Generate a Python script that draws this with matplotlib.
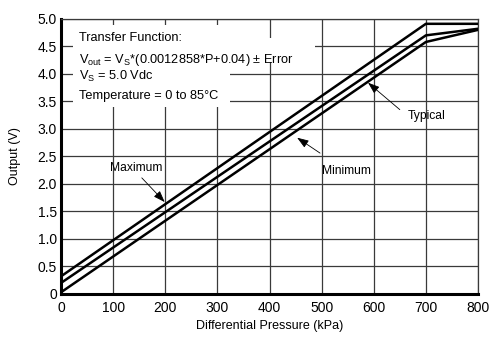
import matplotlib
matplotlib.use('Agg')
import matplotlib.pyplot as plt
from matplotlib.patches import Rectangle

# data (kPa -> V)
pressure = [0, 700, 800]
maximum = [0.32, 4.91, 4.91]
typical = [0.20, 4.70, 4.82]
minimum = [0.03, 4.58, 4.80]

x_ticks = [0, 100, 200, 300, 400, 500, 600, 700, 800]
y_ticks = [0, 0.5, 1.0, 1.5, 2.0, 2.5, 3.0, 3.5, 4.0, 4.5, 5.0]
y_labels = ['0', '0.5', '1.0', '1.5', '2.0', '2.5', '3.0', '3.5', '4.0', '4.5', '5.0']

# annotation label / arrow (tail, tip) positions in data units
notes = [
    ('Maximum', (144, 2.29), (155, 2.11), (199, 1.67)),
    ('Minimum', (547, 2.24), (497, 2.56), (453, 2.84)),
    ('Typical', (702, 3.24), (650, 3.35), (589, 3.84)),
]

plt.rcParams['font.family'] = ['Liberation Sans', 'DejaVu Sans']
plt.rcParams['mathtext.fontset'] = 'custom'
plt.rcParams['mathtext.rm'] = 'Liberation Sans'

fig = plt.figure(figsize=(5, 3.43), dpi=100)
ax = fig.add_axes([0.122, 0.143, 0.834, 0.802])

for v in [maximum, typical, minimum]:
    ax.plot(pressure, v, color='black', lw=1.8, zorder=3)

ax.set_xlim(0, 800)
ax.set_ylim(0, 5)
ax.set_xticks(x_ticks)
ax.set_xticklabels([str(t) for t in x_ticks], fontsize=10)
ax.set_yticks(y_ticks)
ax.set_yticklabels(y_labels, fontsize=10)
ax.tick_params(axis='x', length=0, pad=5)
ax.tick_params(axis='y', length=0, pad=3)
ax.grid(color='#3a3a3a', lw=0.9)
ax.set_axisbelow(True)

for s in ['left', 'bottom']:
    ax.spines[s].set_linewidth(2.2)
    ax.spines[s].set_color('black')
for s in ['top', 'right']:
    ax.spines[s].set_linewidth(0.9)
    ax.spines[s].set_color('#3a3a3a')

# white area behind the transfer function text
ax.add_patch(Rectangle((0.029, 0.68), 0.376, 0.298, transform=ax.transAxes,
                       facecolor='white', edgecolor='none', zorder=1))
ax.add_patch(Rectangle((0.029, 0.844), 0.58, 0.087, transform=ax.transAxes,
                       facecolor='white', edgecolor='none', zorder=1))

txt = [
    (0.918, 'Transfer Function:'),
    (0.841, r'V$_\mathregular{out}$ = V$_\mathregular{S}$*(0.0012858*P+0.04) ± Error'),
    (0.778, r'V$_\mathregular{S}$ = 5.0 Vdc'),
    (0.709, 'Temperature = 0 to 85°C'),
]
for y, t in txt:
    ax.text(0.043, y, t, transform=ax.transAxes, fontsize=9.2, va='baseline',
            ha='left', zorder=4)

for label, pos, tail, tip in notes:
    ax.text(pos[0], pos[1], label, fontsize=8.7, ha='center', va='center', zorder=4)
    ax.annotate('', xy=tip, xytext=tail,
                arrowprops=dict(arrowstyle='-|>,head_length=0.7,head_width=0.25',
                                color='black', lw=0.6, shrinkA=0, shrinkB=0),
                zorder=4)

ax.set_xlabel('Differential Pressure (kPa)', fontsize=9)
ax.set_ylabel('Output (V)', fontsize=9)
ax.xaxis.set_label_coords(0.5, -0.095)
ax.yaxis.set_label_coords(-0.096, 0.5)

fig.savefig('out.png', dpi=100)
